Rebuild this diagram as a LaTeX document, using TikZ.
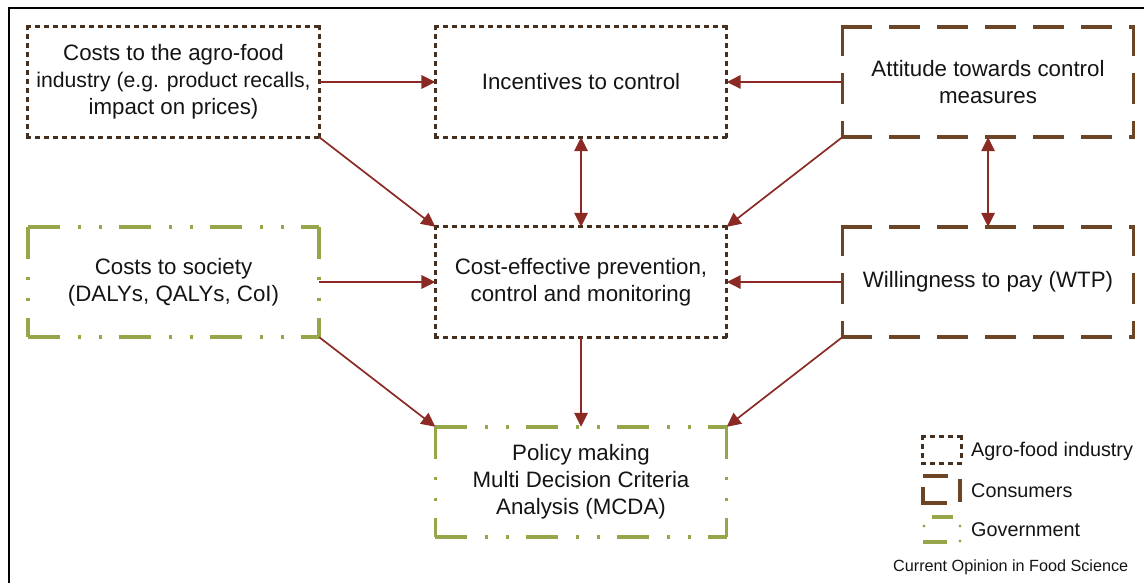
\documentclass[tikz,border=0pt]{standalone}
\usepackage{fontspec}
\setmainfont{Liberation Sans}
\usetikzlibrary{arrows.meta}
\definecolor{agro}{HTML}{45301F}
\definecolor{cons}{HTML}{6B4526}
\definecolor{gov}{HTML}{96A64A}
\definecolor{arrc}{HTML}{8B2A24}
\definecolor{txt}{HTML}{141414}
\newcommand\sidesbox[2]{%
  \draw[#2] (#1.north west) -- (#1.north east);
  \draw[#2] (#1.north west) -- (#1.south west);
  \draw[#2] (#1.south west) -- (#1.south east);
  \draw[#2] (#1.north east) -- (#1.south east);}
\begin{document}
\begin{tikzpicture}[x=1pt,y=-1pt,
  box/.style={minimum width=291pt,minimum height=110pt,inner sep=0pt,align=center,
    font=\fontsize{22.3}{27}\selectfont,text=txt},
  agroline/.style={draw=agro,line width=3.3pt,line cap=rect,dash pattern=on 2pt off 7pt},
  consline/.style={draw=cons,line width=3.5pt,line cap=rect,dash pattern=on 27.5pt off 20.5pt},
  govline/.style={draw=gov,line width=3.5pt,line cap=butt,
    dash pattern=on 32pt off 18pt on 3pt off 18pt on 3pt off 17pt},
  arr/.style={draw=arrc,line width=1.7pt,-{Triangle[length=14pt,width=13.5pt]}},
  darr/.style={draw=arrc,line width=1.7pt,{Triangle[length=14pt,width=13.5pt]}-{Triangle[length=14pt,width=13.5pt]}},
  legtext/.style={anchor=west,inner sep=0pt,font=\fontsize{19.8}{24}\selectfont,text=txt},
  legsym/.style={minimum width=38pt,minimum height=26pt,inner sep=0pt}
]
\useasboundingbox (0,0) rectangle (1144,583);
\draw[line width=1.5pt] (9,583) -- (9,8) -- (1144,8);

% boxes
\node[box] (A) at (173.5,82) {Costs to the agro-food\\{\fontsize{21.2}{27}\selectfont industry (e.g. product recalls,}\\impact on prices)};
\node[box] (B) at (581,82) {Incentives to control};
\node[box] (C) at (988,82) {Attitude towards control\\measures};
\node[box] (D) at (173.5,282) {Costs to society\\(DALYs, QALYs, CoI)};
\node[box] (E) at (581,282) {Cost-effective prevention,\\control and monitoring};
\node[box] (F) at (988,282) {Willingness to pay (WTP)};
\node[box] (G) at (581,482) {Policy making\\Multi Decision Criteria\\Analysis (MCDA)};

\sidesbox{A}{agroline}
\sidesbox{B}{agroline}
\sidesbox{E}{agroline}
\sidesbox{C}{consline}
\sidesbox{F}{consline}
\sidesbox{D}{govline}
\sidesbox{G}{govline}

% connectors
\draw[arr] (A.east) -- (B.west);
\draw[arr] (C.west) -- (B.east);
\draw[arr] (A.south east) -- (E.north west);
\draw[arr] (C.south west) -- (E.north east);
\draw[darr] (B.south) -- (E.north);
\draw[darr] (C.south) -- (F.north);
\draw[arr] (D.east) -- (E.west);
\draw[arr] (F.west) -- (E.east);
\draw[arr] (D.south east) -- (G.north west);
\draw[arr] (F.south west) -- (G.north east);
\draw[arr] (E.south) -- (G.north);

% legend
\node[legsym] (L1) at (942,450) {};
\sidesbox{L1}{agroline}
\node[legsym] (L2) at (942,489.5) {};
\draw[draw=cons,line width=3.5pt] (923,476) -- (948,476);
\draw[draw=cons,line width=3.5pt] (960,479) -- (960,502);
\draw[draw=cons,line width=3.5pt] (923,487) -- (923,503) -- (947,503);
\node[legsym] (L3) at (942,529.5) {};
\draw[draw=gov,line width=3.5pt] (932,517) -- (953,517);
\draw[draw=gov,line width=3.5pt] (923,542) -- (947,542);
\fill[gov] (924,526) circle (1.6pt) (960,526) circle (1.6pt) (960,541) circle (1.6pt);

\node[legtext] (T1) at (971,451) {Agro-food industry};
\node[legtext] (T2) at (971,491) {Consumers};
\node[legtext] (T3) at (971,530) {Government};
\node[anchor=west,inner sep=0pt,font=\fontsize{16.2}{20}\selectfont,text=txt] (src) at (893,567) {Current Opinion in Food Science};
\end{tikzpicture}
\end{document}
